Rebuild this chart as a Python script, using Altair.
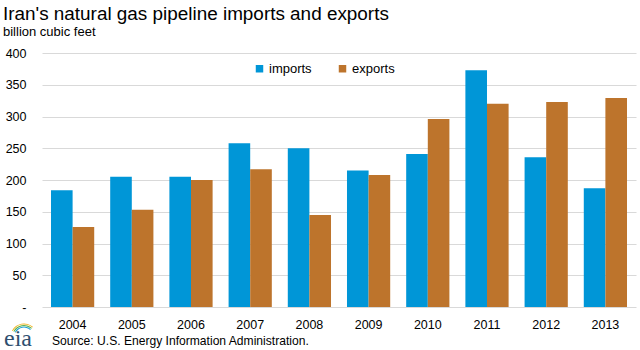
import altair as alt
import pandas as pd

years = ["2004", "2005", "2006", "2007", "2008", "2009", "2010", "2011", "2012", "2013"]
imports = [184, 205, 205, 258, 250, 215, 241, 373, 236, 187]
exports = [126, 153, 200, 217, 145, 208, 296, 320, 323, 329]
series = ["imports", "exports"]
colors = ["#0096d7", "#bd742c"]
y_ticks = [0, 50, 100, 150, 200, 250, 300, 350, 400]

title_text = "Iran's natural gas pipeline imports and exports"
subtitle_text = "billion cubic feet"
source_text = "Source: U.S. Energy Information Administration."

rows = []
for i, yr in enumerate(years):
    rows.append({"year": yr, "series": "imports", "value": imports[i]})
    rows.append({"year": yr, "series": "exports", "value": exports[i]})
df = pd.DataFrame(rows)

FONT = "Liberation Sans"

bars = alt.Chart(df).mark_bar().encode(
    x=alt.X("year:N", sort=years,
            scale=alt.Scale(paddingInner=0.27, paddingOuter=0.152),
            axis=alt.Axis(title=None, labelAngle=0, ticks=False, tickSize=0, domain=False,
                          labelFont=FONT, labelFontSize=12.5, labelColor="#000000",
                          labelPadding=11, grid=False)),
    xOffset=alt.XOffset("series:N", sort=series, scale=alt.Scale(paddingInner=0, paddingOuter=0)),
    y=alt.Y("value:Q", scale=alt.Scale(domain=[0, 400], nice=False),
            axis=alt.Axis(title=None, values=y_ticks, ticks=False, tickSize=0, domain=False,
                          labelFont=FONT, labelFontSize=12.5, labelColor="#000000",
                          labelPadding=16, grid=True, gridColor="#d9d9d9", gridWidth=1,
                          labelExpr="datum.value == 0 ? '-' : datum.label")),
    color=alt.Color("series:N", sort=series,
                    scale=alt.Scale(domain=series, range=colors),
                    legend=alt.Legend(title=None, orient="none", direction="horizontal",
                                      legendX=211, legendY=9, padding=0,
                                      symbolType="square", symbolSize=56, symbolStrokeWidth=0,
                                      labelFont=FONT, labelFontSize=13, labelColor="#000000",
                                      labelOffset=3, columnPadding=24)),
)

one = pd.DataFrame({"k": [0]})

title = alt.Chart(one).mark_text(align="left", baseline="alphabetic", font=FONT,
                                 fontSize=18.9, color="#000000").encode(
    x=alt.value(-39), y=alt.value(-33), text=alt.value(title_text))
subtitle = alt.Chart(one).mark_text(align="left", baseline="alphabetic", font=FONT,
                                    fontSize=13, color="#000000").encode(
    x=alt.value(-39), y=alt.value(-17), text=alt.value(subtitle_text))
source = alt.Chart(one).mark_text(align="left", baseline="alphabetic", font=FONT,
                                  fontSize=12.1, color="#000000").encode(
    x=alt.value(10), y=alt.value(292), text=alt.value(source_text))
eia = alt.Chart(one).mark_text(align="left", baseline="alphabetic", font="Liberation Serif",
                               fontSize=24, color="#2f4f6f").encode(
    x=alt.value(-38), y=alt.value(293), text=alt.value("eia"))

arc_df = pd.DataFrame({
    "c": ["y", "g", "b"],
    "r1": [12.6, 11.0, 9.4],
    "r2": [13.6, 12.0, 10.4],
})
arcs = alt.Chart(arc_df).mark_arc(theta=5.2, theta2=7.0).encode(
    x=alt.value(-18), y=alt.value(284),
    radius=alt.Radius("r1:Q", scale=None),
    radius2=alt.Radius2("r2:Q"),
    color=alt.Color("c:N", scale=alt.Scale(domain=["y", "g", "b"],
                                           range=["#f2b21c", "#5fae46", "#1aa0d8"]),
                    legend=None),
)

chart = alt.layer(bars, title, subtitle, source, arcs, eia).resolve_scale(color="independent").properties(
    width=594, height=254,
    autosize=alt.AutoSizeParams(type="none"),
    padding={"left": 42, "top": 53, "right": 4, "bottom": 43},
    background="#ffffff",
).configure_view(stroke=None)

chart.save("out.html", embed_options={"renderer": "svg", "actions": False})
